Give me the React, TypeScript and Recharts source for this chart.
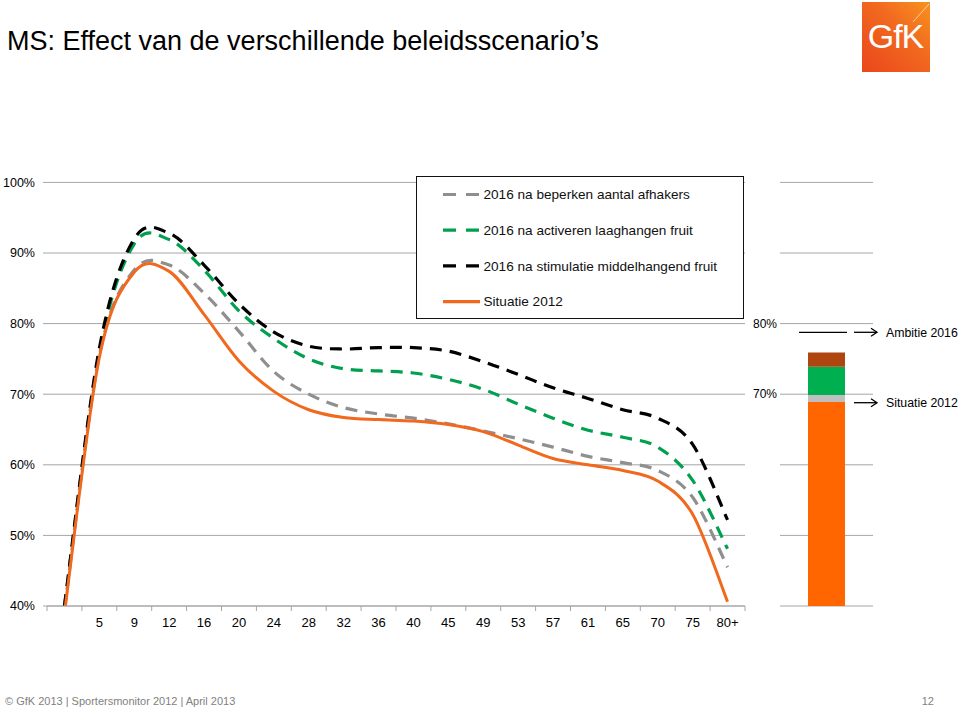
import React from 'react';
import { LineChart, Line, XAxis, YAxis, CartesianGrid, Legend, BarChart, Bar } from 'recharts';

// ---------- data ----------
const ageLabels = ['', '5', '9', '12', '16', '20', '24', '28', '32', '36', '40', '45', '49', '53', '57', '61', '65', '70', '75', '80+'];
const beperkenAfhakers2016 = [39.5, 75.5, 87.6, 88.3, 84.3, 78.9, 73.2, 70.0, 68.1, 67.2, 66.6, 65.8, 64.8, 63.7, 62.5, 61.2, 60.3, 59.2, 55.4, 45.5];
const activerenLaaghangend2016 = [40, 76.0, 91.3, 91.9, 87.6, 81.8, 77.9, 75.0, 73.6, 73.3, 73.0, 72.1, 70.7, 68.6, 66.6, 64.9, 63.9, 62.5, 57.8, 48.1];
const stimulatieMiddelhangend2016 = [40, 76.5, 92.0, 92.8, 88.3, 82.8, 78.8, 76.8, 76.4, 76.6, 76.6, 76.1, 74.6, 72.8, 70.9, 69.4, 67.8, 66.6, 62.9, 52.2];
const situatie2012 = [39, 75.2, 87.3, 87.4, 81.3, 74.7, 70.4, 67.8, 66.7, 66.4, 66.2, 65.7, 64.7, 62.8, 60.9, 60.0, 59.2, 57.7, 53.0, 40.6];
const yTicks = [40, 50, 60, 70, 80, 90, 100];

const barCategories = ['Totaal'];
const barSituatie2012 = [68.9];
const barAfhakers = [1.0];
const barLaaghangend = [4.0];
const barMiddelhangend = [2.0];
const barLabelTicks = [70, 80];

const lineData = ageLabels.map((age, i) => ({
  age,
  afhakers: beperkenAfhakers2016[i],
  laaghangend: activerenLaaghangend2016[i],
  middelhangend: stimulatieMiddelhangend2016[i],
  situatie: situatie2012[i],
}));

const barData = barCategories.map((cat, i) => ({
  cat,
  situatie: barSituatie2012[i],
  afhakers: barAfhakers[i],
  laaghangend: barLaaghangend[i],
  middelhangend: barMiddelhangend[i],
}));

// ---------- styles ----------
const FONT = '"Liberation Sans", Arial, Helvetica, sans-serif';
const GRID = '#a6a6a6';
const series = [
  { key: 'afhakers', name: '2016 na beperken aantal afhakers', color: '#8f8f8f', dash: '12 8' },
  { key: 'laaghangend', name: '2016 na activeren laaghangen fruit', color: '#00a04f', dash: '12 8' },
  { key: 'middelhangend', name: '2016 na stimulatie middelhangend fruit', color: '#000000', dash: '12 8' },
  { key: 'situatie', name: 'Situatie 2012', color: '#f0691e', dash: undefined as string | undefined },
];

// Excel-like smoothed line (Catmull-Rom through the points)
const excelSmooth: any = (context: any) => {
  let pts: number[][] = [];
  return {
    areaStart() {},
    areaEnd() {},
    lineStart() { pts = []; },
    point(x: number, y: number) { pts.push([+x, +y]); },
    lineEnd() {
      const n = pts.length;
      if (!n) return;
      context.moveTo(pts[0][0], pts[0][1]);
      for (let i = 0; i < n - 1; i++) {
        const p0 = pts[Math.max(i - 1, 0)];
        const p1 = pts[i];
        const p2 = pts[i + 1];
        const p3 = pts[Math.min(i + 2, n - 1)];
        context.bezierCurveTo(
          p1[0] + (p2[0] - p0[0]) / 6, p1[1] + (p2[1] - p0[1]) / 6,
          p2[0] - (p3[0] - p1[0]) / 6, p2[1] - (p3[1] - p1[1]) / 6,
          p2[0], p2[1]
        );
      }
    },
  };
};

const PLOT_W = 698;
const BW = PLOT_W / ageLabels.length;

const XTick = (props: any) => {
  const { x, y, payload, index } = props;
  const last = index === ageLabels.length - 1;
  return (
    <g>
      <line x1={x - BW / 2} x2={x - BW / 2} y1={y} y2={y + 5} stroke={GRID} strokeWidth={1} />
      {last && <line x1={x + BW / 2} x2={x + BW / 2} y1={y} y2={y + 5} stroke={GRID} strokeWidth={1} />}
      <text x={x} y={y + 20.5} textAnchor="middle" fontSize={13} fontFamily={FONT} fill="#000">
        {payload.value}
      </text>
    </g>
  );
};

const LegendBox = (props: any) => {
  const payload = (props.payload || []) as any[];
  const ordered = series.map((s) => payload.find((p) => p.dataKey === s.key) || { value: s.name, color: s.color, dataKey: s.key });
  return (
    <div style={{ width: 328, height: 143, boxSizing: 'border-box', border: '1px solid #111', background: '#fff' }}>
      <svg width={326} height={141} style={{ display: 'block' }}>
        {ordered.map((p, i) => {
          const s = series.find((q) => q.key === p.dataKey)!;
          const cy = 17.5 + i * 35.7;
          return (
            <g key={s.key}>
              <line x1={26} x2={63} y1={cy} y2={cy} stroke={s.color} strokeWidth={3.2} strokeDasharray={s.dash ? '13 10' : undefined} />
              <text x={66.5} y={cy + 4.8} fontSize={13.6} fontFamily={FONT} fill="#111">{p.value}</text>
            </g>
          );
        })}
      </svg>
    </div>
  );
};

const Arrow = ({ x1, x2, y }: { x1: number; x2: number; y: number }) => (
  <g stroke="#000" strokeWidth={1.3} fill="none">
    <line x1={x1} x2={x2} y1={y} y2={y} />
    <polyline points={`${x2 - 6},${y - 4} ${x2},${y} ${x2 - 6},${y + 4}`} />
  </g>
);

export default function App() {
  return (
    <div style={{ position: 'absolute', left: 0, top: 0, width: 960, height: 710, background: '#fff', overflow: 'hidden', fontFamily: FONT }}>
      <div style={{ position: 'absolute', left: 0, top: 0 }}>
        <LineChart width={760} height={650} data={lineData} margin={{ top: 182.4, right: 15, bottom: 14, left: 0 }}>
          <CartesianGrid vertical={false} stroke={GRID} strokeWidth={1} />
          <XAxis
            dataKey="age"
            interval={0}
            padding={{ left: BW / 2, right: BW / 2 }}
            tickLine={false}
            tickSize={0}
            tickMargin={0}
            height={30}
            axisLine={{ stroke: GRID }}
            tick={<XTick />}
          />
          <YAxis
            domain={[40, 100]}
            ticks={yTicks}
            allowDataOverflow
            width={47}
            axisLine={false}
            tickLine={{ stroke: GRID }}
            tickSize={4}
            tickMargin={8}
            tickFormatter={(v: number) => `${v}%`}
            tick={{ fontSize: 12.5, fontFamily: FONT, fill: '#000' }}
          />
          <Legend
            layout="horizontal"
            verticalAlign="middle"
            align="center"
            wrapperStyle={{ left: 416, top: 176, width: 328, height: 143 }}
            content={<LegendBox />}
          />
          {series.map((s) => (
            <Line
              key={s.key}
              dataKey={s.key}
              name={s.name}
              type={excelSmooth}
              stroke={s.color}
              strokeWidth={s.dash ? 3.2 : 3}
              strokeDasharray={s.dash}
              dot={false}
              activeDot={false}
              isAnimationActive={false}
            />
          ))}
        </LineChart>
      </div>

      <div style={{ position: 'absolute', left: 745, top: 0 }}>
        <BarChart width={135} height={650} data={barData} margin={{ top: 182.4, right: 7, bottom: 44, left: 0 }}>
          <CartesianGrid vertical={false} stroke={GRID} strokeWidth={1} />
          <XAxis dataKey="cat" hide height={0} />
          <YAxis
            domain={[40, 100]}
            ticks={yTicks}
            allowDataOverflow
            width={35}
            axisLine={false}
            tickLine={false}
            tickSize={0}
            tickMargin={3}
            tickFormatter={(v: number) => (barLabelTicks.includes(v) ? `${v}%` : '')}
            tick={{ fontSize: 12, fontFamily: FONT, fill: '#000' }}
          />
          <Bar dataKey="situatie" stackId="s" fill="#ff6600" barSize={37} isAnimationActive={false} />
          <Bar dataKey="afhakers" stackId="s" fill="#bfbfbf" barSize={37} isAnimationActive={false} />
          <Bar dataKey="laaghangend" stackId="s" fill="#00b050" barSize={37} isAnimationActive={false} />
          <Bar dataKey="middelhangend" stackId="s" fill="#b0460f" barSize={37} isAnimationActive={false} />
        </BarChart>
      </div>

      <svg width={960} height={710} style={{ position: 'absolute', left: 0, top: 0, pointerEvents: 'none' }}>
        <defs>
          <linearGradient id="gfkGrad" x1="0" y1="1" x2="1" y2="0">
            <stop offset="0%" stopColor="#e9471b" />
            <stop offset="60%" stopColor="#f26a1f" />
            <stop offset="100%" stopColor="#f7931e" />
          </linearGradient>
        </defs>
        <text x={7} y={50} fontSize={27} fontFamily={FONT} fill="#000">MS: Effect van de verschillende beleidsscenario’s</text>

        <rect x={862} y={2} width={68} height={70} fill="url(#gfkGrad)" />
        <line x1={929} y1={4} x2={913} y2={22} stroke="#fff" strokeOpacity={0.6} strokeWidth={1} />
        <text x={895.5} y={48} textAnchor="middle" fontSize={34} fontFamily={FONT} fill="#fff" letterSpacing={-1}>GfK</text>

        <line x1={799} x2={847} y1={332.3} y2={332.3} stroke="#000" strokeWidth={1.3} />
        <Arrow x1={854} x2={877} y={332.3} />
        <text x={886} y={336.6} fontSize={12.3} fontFamily={FONT} fill="#000">Ambitie 2016</text>
        <Arrow x1={854} x2={877} y={402.7} />
        <text x={886} y={407} fontSize={12.3} fontFamily={FONT} fill="#000">Situatie 2012</text>

        <text x={5} y={705} fontSize={11} fontFamily={FONT} fill="#7f7f7f">© GfK 2013 | Sportersmonitor 2012 | April 2013</text>
        <text x={934} y={705} textAnchor="end" fontSize={11} fontFamily={FONT} fill="#7f7f7f">12</text>
      </svg>
    </div>
  );
}
